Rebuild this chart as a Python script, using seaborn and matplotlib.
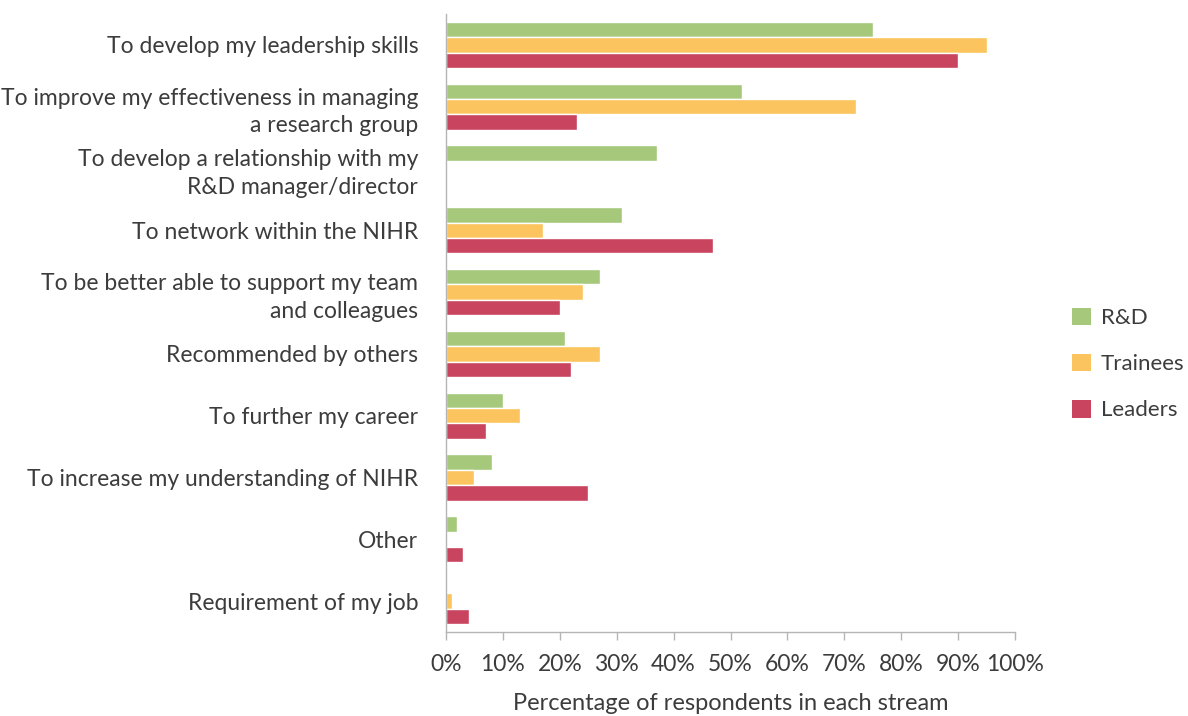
import numpy as np
import pandas as pd
import seaborn as sns
import matplotlib.pyplot as plt
from matplotlib.patches import Patch
from matplotlib.ticker import FixedLocator

categories = [
    "To develop my leadership skills",
    "To improve my effectiveness in managing\na research group",
    "To develop a relationship with my\nR&D manager/director",
    "To network within the NIHR",
    "To be better able to support my team\nand colleagues",
    "Recommended by others",
    "To further my career",
    "To increase my understanding of NIHR",
    "Other",
    "Requirement of my job",
]
streams = ["R&D", "Trainees", "Leaders"]
rd_vals = [75, 52, 37, 31, 27, 21, 10, 8, 2, 0]
trainee_vals = [95, 72, 0, 17, 24, 27, 13, 5, 0, 1]
leader_vals = [90, 23, 0, 47, 20, 22, 7, 25, 3, 4]
x_ticks = [0, 10, 20, 30, 40, 50, 60, 70, 80, 90, 100]

colors = ["#a5c87b", "#fcc45e", "#c8445f"]
text_col = "#3c3c3c"
axis_col = "#b5b5b5"

df = pd.DataFrame({
    "reason": categories * 3,
    "stream": np.repeat(streams, len(categories)),
    "pct": rd_vals + trainee_vals + leader_vals,
})

sns.set_style("white")
plt.rcParams["font.family"] = ["Lato", "DejaVu Sans"]

fig = plt.figure(figsize=(11.88, 7.16), dpi=100)
ax = fig.add_axes([446 / 1188, 84 / 716, 569 / 1188, 618 / 716])

sns.barplot(data=df, y="reason", x="pct", hue="stream", hue_order=streams,
            palette=colors, orient="h", width=0.75, gap=0, legend=False,
            saturation=1, ax=ax)

ax.set_xlim(0, 100)
ax.set_ylim(len(categories) - 0.5, -0.5)
ax.set_xticks(x_ticks)
ax.set_xticklabels([f"{t}%" for t in x_ticks], color=text_col, fontsize=16.5)
ax.set_yticklabels(categories, color=text_col, fontsize=16.5)
for t in ax.get_yticklabels():
    t.set_linespacing(1.4)
ax.yaxis.set_minor_locator(FixedLocator(np.arange(-0.5, len(categories), 1)))
ax.tick_params(axis="y", which="major", length=0, pad=20)
ax.tick_params(axis="y", which="minor", length=5, color=axis_col, width=1)
ax.tick_params(axis="x", length=6, color=axis_col, width=1, pad=10, bottom=True)

ax.set_ylabel("")
ax.set_xlabel("Percentage of respondents in each stream", color=text_col,
              fontsize=17, labelpad=13)

for side in ["top", "right"]:
    ax.spines[side].set_visible(False)
for side in ["left", "bottom"]:
    ax.spines[side].set_color(axis_col)
    ax.spines[side].set_linewidth(1)

handles = [Patch(facecolor=c, edgecolor="none") for c in colors]
leg = fig.legend(handles, streams, loc="center left",
                 bbox_to_anchor=(1072 / 1188, 1 - 364 / 716), frameon=False,
                 fontsize=16, handlelength=0.85, handleheight=0.85,
                 handletextpad=0.45, labelspacing=1.15, borderpad=0,
                 borderaxespad=0)
for t in leg.get_texts():
    t.set_color(text_col)

fig.savefig("out.png", dpi=100)
